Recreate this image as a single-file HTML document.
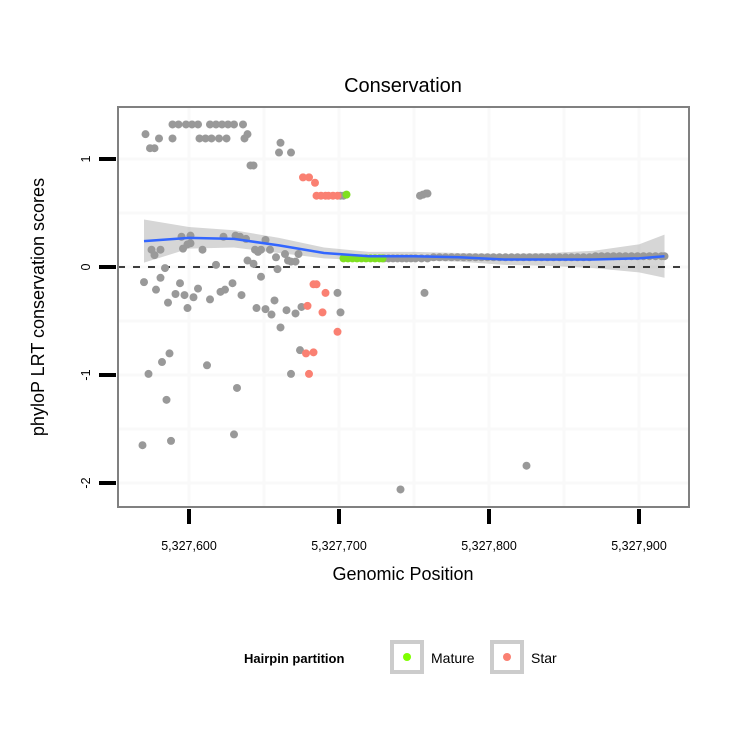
<!DOCTYPE html>
<html><head><meta charset="utf-8"><style>
body{margin:0;background:#fff}
svg text{font-family:"Liberation Sans",sans-serif}
</style></head><body>
<svg id="chart" width="750" height="750" xmlns="http://www.w3.org/2000/svg">
<rect width="750" height="750" fill="#fff"/>
<text x="403" y="92" font-size="20" text-anchor="middle">Conservation</text>
<g id="grid"></g>
<g id="ribbon"></g>
<line x1="118" x2="689" y1="267" y2="267" stroke="#000" stroke-width="1.6" stroke-dasharray="7,8"/>
<g id="points"></g>
<g id="smooth"></g>
<rect x="118" y="107" width="571" height="400" fill="none" stroke="#808080" stroke-width="2"/>
<g id="axes"></g>
<text x="403" y="580" font-size="18" text-anchor="middle">Genomic Position</text>
<text transform="translate(44,307) rotate(-90)" font-size="18" text-anchor="middle">phyloP LRT conservation scores</text>
<g>
<text x="244" y="663" font-size="13" font-weight="bold">Hairpin partition</text>
<g>
<rect x="392" y="642" width="30" height="30" fill="#fff" stroke="#ccc" stroke-width="4"/>
<circle cx="407" cy="657" r="4" fill="#7fff00"/>
<text x="431" y="663" font-size="14">Mature</text></g>
<g>
<rect x="492" y="642" width="30" height="30" fill="#fff" stroke="#ccc" stroke-width="4"/>
<circle cx="507" cy="657" r="4" fill="#fa8072"/>
<text x="531" y="663" font-size="14">Star</text></g>
</g>
</svg>
<script>
// offsets from 5,327,600
const grayX=[-11,-7,-2,2,6,14,18,22,26,30,36,-29,39,-20,-11,7,11,15,20,25,37,-26,-23,61,60,68,41,43,101,103,154,156,158,159,
-5,1,-25,-23,-19,-4,-1,1,9,23,31,34,38,44,46,48,51,54,58,64,66,68,73,71,39,-16,18,43,59,
-30,-19,-6,-22,-9,-3,6,3,14,21,24,29,35,48,-14,57,99,-1,45,51,55,65,71,75,61,101,74,68,
-13,-18,-27,12,32,-15,30,-12,-31,157,141,225,
130,133,136,139,142,145,148,151,155,159,163,167,171,175,179,183,187,191,195,199,203,207,211,215,219,223,227,231,235,239,243,247,251,255,259,263,267,271,275,279,283,287,291,295,299,303,307,311,315,317];
const grayY=[1.32,1.32,1.32,1.32,1.32,1.32,1.32,1.32,1.32,1.32,1.32,1.23,1.23,1.19,1.19,1.19,1.19,1.19,1.19,1.19,1.19,1.10,1.10,1.15,1.06,1.06,0.94,0.94,0.66,0.66,0.66,0.67,0.68,0.68,
0.28,0.29,0.16,0.11,0.16,0.17,0.21,0.22,0.16,0.28,0.29,0.28,0.26,0.16,0.14,0.16,0.25,0.16,0.09,0.12,0.06,0.05,0.12,0.05,0.06,-0.01,0.02,0.03,-0.02,
-0.14,-0.10,-0.15,-0.21,-0.25,-0.26,-0.20,-0.28,-0.30,-0.23,-0.21,-0.15,-0.26,-0.09,-0.33,-0.31,-0.24,-0.38,-0.38,-0.39,-0.44,-0.40,-0.43,-0.37,-0.56,-0.42,-0.77,-0.99,
-0.80,-0.88,-0.99,-0.91,-1.12,-1.23,-1.55,-1.61,-1.65,-0.24,-2.06,-1.84,
0.08,0.08,0.08,0.08,0.08,0.08,0.08,0.08,0.08,0.08,0.09,0.09,0.09,0.09,0.09,0.09,0.09,0.09,0.09,0.09,0.09,0.09,0.09,0.09,0.09,0.09,0.09,0.09,0.09,0.09,0.09,0.09,0.09,0.09,0.09,0.09,0.09,0.10,0.10,0.10,0.10,0.10,0.10,0.10,0.10,0.10,0.10,0.10,0.10,0.10];
const starX=[76,80,84,85,88,91,93,96,99,83,85,91,79,89,99,78,83,80];
const starY=[0.83,0.83,0.78,0.66,0.66,0.66,0.66,0.66,0.66,-0.16,-0.16,-0.24,-0.36,-0.42,-0.60,-0.80,-0.79,-0.99];
const matureX=[105,103,106,109,112,115,118,121,124,127,129];
const matureY=[0.67,0.08,0.08,0.08,0.08,0.08,0.08,0.08,0.08,0.08,0.08];
const smoothX=[-30,0,30,60,90,120,150,180,210,240,270,300,317];
const smoothFit=[0.24,0.27,0.26,0.20,0.13,0.10,0.10,0.09,0.07,0.07,0.07,0.08,0.10];
const smoothSe=[0.20,0.10,0.08,0.07,0.05,0.04,0.04,0.04,0.05,0.06,0.08,0.13,0.20];
const xTicks=[0,100,200,300];
const xTickLabels=["5,327,600","5,327,700","5,327,800","5,327,900"];
const yTicks=[1,0,-1,-2];
const yTickLabels=["1","0","-1","-2"];
const xMinor=[50,150,250];
const yMinor=[0.5,-0.5,-1.5];

const NS="http://www.w3.org/2000/svg";
const sx=v=>189+v*1.5;
const sy=v=>267-v*108;
function mk(tag,attrs,parent){const e=document.createElementNS(NS,tag);for(const k in attrs)e.setAttribute(k,attrs[k]);parent.appendChild(e);return e;}
const grid=document.getElementById('grid');
mk('rect',{x:118,y:107,width:571,height:400,fill:'#fff'},grid);
xMinor.concat(xTicks).forEach(v=>{const l=mk('line',{x1:sx(v),x2:sx(v),y1:107,y2:507,stroke:'#f9f9f9','stroke-width':3},grid);

});
yMinor.concat(yTicks).forEach(v=>{const l=mk('line',{x1:118,x2:689,y1:sy(v),y2:sy(v),stroke:'#f9f9f9','stroke-width':3},grid);

});
// ribbon
const rib=document.getElementById('ribbon');
let d='';
smoothX.forEach((x,i)=>{d+=(i?'L':'M')+sx(x)+','+sy(smoothFit[i]+smoothSe[i]);});
for(let i=smoothX.length-1;i>=0;i--)d+='L'+sx(smoothX[i])+','+sy(smoothFit[i]-smoothSe[i]);
const rp=mk('path',{d:d+'Z',fill:'#999','fill-opacity':0.4},rib);


// points
const pts=document.getElementById('points');
function drawPts(xs,ys,col,name){xs.forEach((x,i)=>{const c=mk('circle',{cx:sx(x),cy:sy(ys[i]),r:4,fill:col},pts);

});}
drawPts(grayX,grayY,'#999999','point-other');
drawPts(starX,starY,'#fa8072','point-star');
drawPts(matureX,matureY,'#7fe020','point-mature');
// smooth line
const sm=document.getElementById('smooth');
let ld='';smoothX.forEach((x,i)=>{ld+=(i?'L':'M')+sx(x)+','+sy(smoothFit[i]);});
const lp=mk('path',{d:ld,fill:'none',stroke:'#3366ff','stroke-width':2.5},sm);


// axes
const ax=document.getElementById('axes');
xTicks.forEach((v,i)=>{const t=mk('rect',{x:sx(v)-2,y:509,width:4,height:15,fill:'#000'},ax);


const tx=mk('text',{x:sx(v),y:550,'font-size':12.5,'text-anchor':'middle'},ax);tx.textContent=xTickLabels[i];

});
yTicks.forEach((v,i)=>{const t=mk('rect',{x:99,y:sy(v)-2,width:17,height:4,fill:'#000'},ax);


const tx=mk('text',{transform:'translate(90,'+sy(v)+') rotate(-90)','font-size':12.5,'text-anchor':'middle'},ax);tx.textContent=yTickLabels[i];

});
</script>
</body></html>
